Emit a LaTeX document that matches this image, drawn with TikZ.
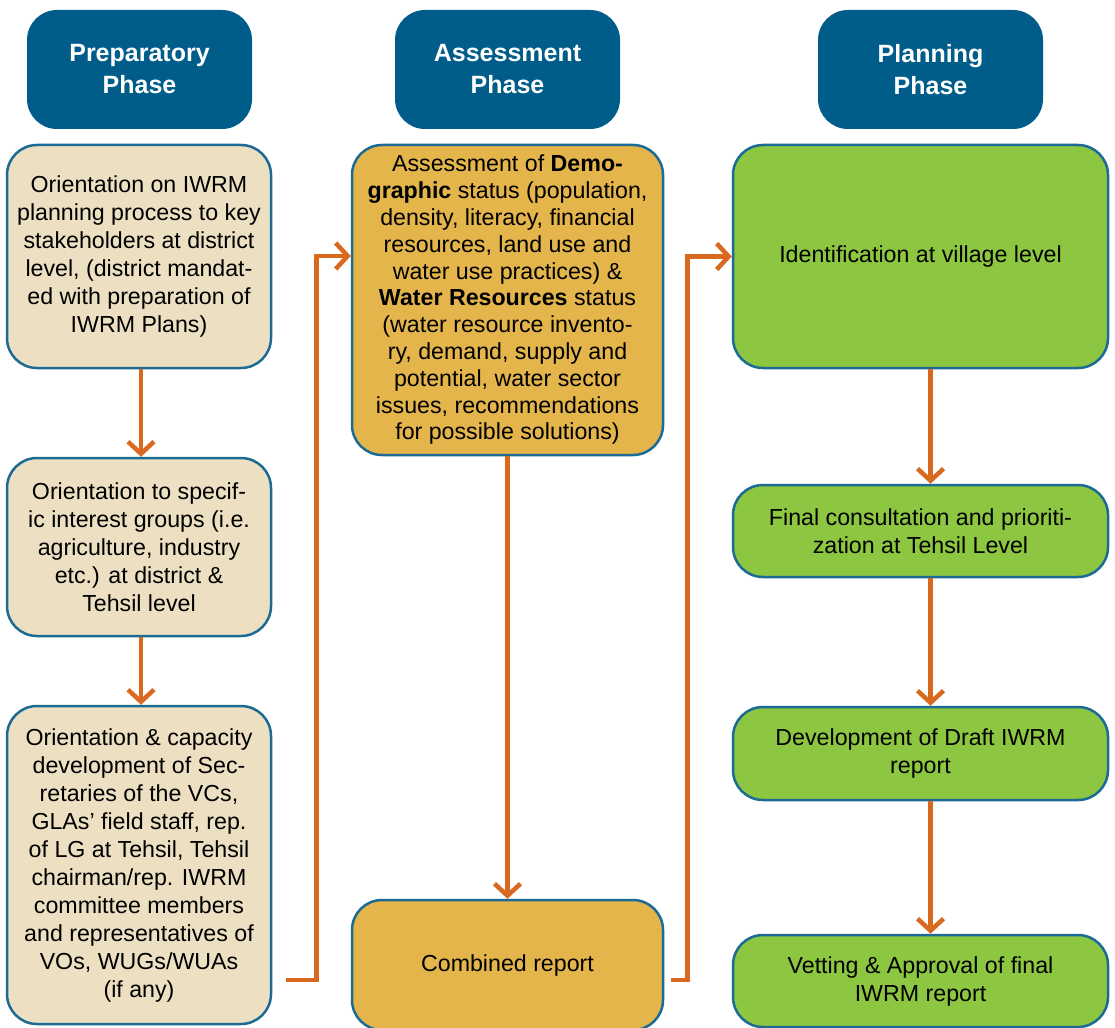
\documentclass[tikz,border=0pt]{standalone}
\usepackage{fontspec}
\setmainfont{Liberation Sans}
\usetikzlibrary{arrows.meta,positioning}
\definecolor{hdrblue}{HTML}{005D8A}
\definecolor{edgeblue}{HTML}{1B6B95}
\definecolor{beige}{HTML}{EDE0C2}
\definecolor{gold}{HTML}{E3B54B}
\definecolor{leaf}{HTML}{8DC640}
\definecolor{flowor}{HTML}{D8691E}
\tikzset{
  header/.style={rectangle, rounded corners=30pt, fill=hdrblue, text=white,
    minimum width=225pt, minimum height=119pt, align=center,
    font=\fontsize{25}{32}\selectfont\bfseries, inner sep=0pt},
  card/.style={rectangle, rounded corners=30pt, draw=edgeblue, line width=2.5pt,
    align=center, font=\fontsize{23.2}{28}\selectfont, inner sep=0pt},
  prep/.style={card, fill=beige, minimum width=264pt},
  assess/.style={card, fill=gold, minimum width=311pt},
  plan/.style={card, fill=leaf, minimum width=375pt},
  flow/.style={draw=flowor, line width=4.5pt,
    -{Straight Barb[length=12pt,width=26pt,line width=4.5pt]}},
}
\begin{document}
\begin{tikzpicture}[x=1pt,y=-1pt]
\useasboundingbox (0,0) rectangle (1115,1027);
\clip (0,0) rectangle (1115,1027);
\fill[white] (0,0) rectangle (1115,1027);

% phase headers
\node[header] (h1) at (139.5,69.5) {Preparatory\\Phase};
\node[header] (h2) at (507.5,69.5) {Assessment\\Phase};
\node[header] (h3) at (930.5,69.5) {Planning\\Phase};

% preparatory column
\node[prep, minimum height=223pt] (p1) at (139,256.5)
  {Orientation on IWRM\\planning process to key\\stakeholders at district\\level, (district mandat-\\ed with preparation of\\IWRM Plans)};
\node[prep, minimum height=178pt] (p2) at (139,547)
  {Orientation to specif-\\ic interest groups (i.e.\\agriculture, industry\\etc.) at district \&\\Tehsil level};
\node[prep, minimum height=318pt] (p3) at (139,865)
  {Orientation \& capacity\\development of Sec-\\retaries of the VCs,\\GLAs’ field staff, rep.\\of LG at Tehsil, Tehsil\\chairman/rep. IWRM\\committee members\\and representatives of\\VOs, WUGs/WUAs\\(if any)};

% assessment column
\node[assess, minimum height=310pt, font=\fontsize{23.2}{26.8}\selectfont] (a1) at (507.5,300)
  {Assessment of \textbf{Demo-}\\\textbf{graphic} status (population,\\density, literacy, financial\\resources, land use and\\water use practices) \&\\\textbf{Water Resources} status\\(water resource invento-\\ry, demand, supply and\\potential, water sector\\issues, recommendations\\for possible solutions)};
\node[assess, minimum height=130pt] (a2) at (507.5,965) {Combined report};

% planning column
\node[plan, minimum height=223pt] (r1) at (920.5,256.5) {Identification at village level};
\node[plan, minimum height=92pt] (r2) at (920.5,531) {Final consultation and prioriti-\\zation at Tehsil Level};
\node[plan, minimum height=93pt] (r3) at (920.5,753.5) {Development of Draft IWRM\\report};
\node[plan, minimum height=92pt] (r4) at (920.5,981) {Vetting \& Approval of final\\IWRM report};

% connectors
\draw[flow] ([xshift=2pt]p1.south) -- ([xshift=2pt]p2.north);
\draw[flow] ([xshift=2pt]p2.south) -- ([xshift=2pt]p3.north);
\draw[flow] (a1.south) -- (a2.north);
\draw[flow] ([xshift=10pt]r1.south) -- ([xshift=10pt]r2.north);
\draw[flow] ([xshift=10pt]r2.south) -- ([xshift=10pt]r3.north);
\draw[flow] ([xshift=10pt]r3.south) -- ([xshift=10pt]r4.north);
\draw[flow, shorten <=14pt] ([yshift=-115pt]p3.east) -- ++(44,0) |- ([yshift=44pt]a1.west);
\draw[flow, shorten <=7pt] ([yshift=-15pt]a2.east) -- ++(23,0) |- (r1.west);
\end{tikzpicture}
\end{document}
